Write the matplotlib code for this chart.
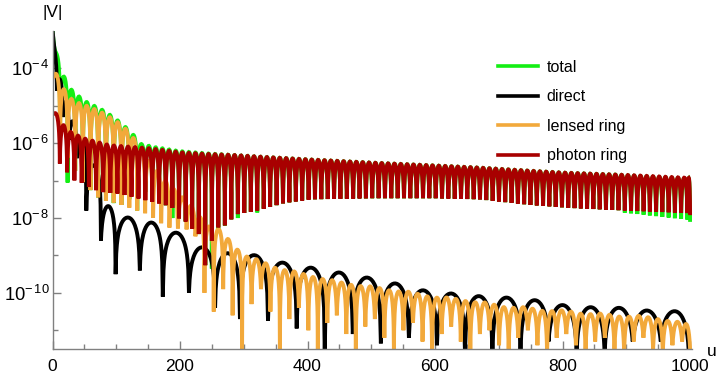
import numpy as np
import matplotlib
matplotlib.use('Agg')
import matplotlib.pyplot as plt

# every value below is log10|V|

# direct image: nulls (u), peak of each lobe, depth at each null
direct_nulls = [0, 7, 16, 26, 38, 53, 76, 99, 137, 173, 214, 255, 294, 338, 383,
                427, 471, 515, 559, 603, 647, 690, 734, 778, 822, 866, 910, 954, 998]
direct_peaks = [-3.9, -4.4, -5.0, -5.5, -5.9, -6.6, -7.7, -8.0, -8.13, -8.4, -8.8,
                -8.95, -9.0, -9.2, -9.33, -9.46, -9.6, -9.76, -9.95, -10.03, -10.1,
                -10.14, -10.22, -10.36, -10.41, -10.44, -10.54, -10.54]
direct_depths = [-2.95, -4.6, -5.3, -5.9, -6.4, -7.8, -8.6, -9.5, -9.4, -10.1, -10.0,
                 -10.4, -10.7, -10.75, -10.95, -11.6, -11.1, -11.35, -11.2, -11.4,
                 -11.6, -11.6, -11.6, -11.3, -11.6, -11.6, -11.3, -11.3, -11.6]

# lensed ring: peak envelope, spacing of nulls, depth of nulls
lensed_env_u = [0, 6, 22, 33, 53, 74, 94, 110, 126, 150, 175, 200, 225, 250, 265,
                280, 300, 340, 400, 450, 500, 550, 600, 650, 700, 750, 850, 950, 1000]
lensed_top = [-4.2, -4.2, -4.7, -4.88, -5.0, -5.15, -5.35, -5.53, -5.85, -6.45, -7.0,
              -7.45, -7.9, -8.3, -8.3, -8.7, -9.0, -9.3, -9.55, -9.75, -9.88, -10.0,
              -10.15, -10.25, -10.4, -10.5, -10.64, -10.77, -11.0]
lensed_period_u = [0, 150, 250, 1000]
lensed_period = [11.8, 12.5, 14.8, 15.2]
lensed_floor_u = [0, 12, 30, 50, 75, 100, 150, 180, 210, 225, 236]
lensed_floor = [-4.25, -6.0, -6.6, -7.1, -7.5, -7.6, -7.9, -8.25, -8.3, -8.5, -9.5]
lensed_late_depths = [-10.0, -10.5, -9.9, -10.6, -11.6, -10.3, -9.9, -10.5, -11.6, -10.7,
                      -10.4, -11.0, -11.6, -10.8, -10.6, -11.1, -11.6, -10.9, -10.7, -11.2,
                      -11.6, -11.0, -10.8, -11.3, -11.6, -11.1, -10.9, -11.3, -11.6, -11.1,
                      -11.0, -11.4, -11.6, -11.2, -11.0, -11.4, -11.6, -11.2, -11.1, -11.4,
                      -11.6, -11.3, -11.2, -11.5, -11.6, -11.3, -11.2, -11.5, -11.6, -11.4,
                      -11.3, -11.5, -11.6, -11.4, -11.3, -11.5]

# photon ring
photon_env_u = [0, 14, 30, 50, 90, 150, 200, 280, 400, 500, 670, 800, 900, 1000]
photon_top = [-5.2, -5.5, -5.75, -5.9, -6.08, -6.15, -6.25, -6.32, -6.47, -6.57,
              -6.72, -6.84, -6.9, -6.98]
photon_floor_u = [0, 9, 19, 30, 45, 60, 75, 105, 140, 165, 187, 200, 210, 220, 231,
                  239, 250, 260, 270, 289, 321, 342, 363, 405, 500, 600, 670, 750,
                  813, 900, 1000]
photon_floor = [-5.2, -6.5, -6.67, -6.97, -7.05, -7.2, -7.3, -7.35, -7.5, -7.6, -7.7,
                -8.05, -8.1, -8.3, -8.45, -9.3, -8.6, -8.25, -8.2, -7.9, -7.8, -7.7,
                -7.6, -7.5, -7.47, -7.47, -7.5, -7.65, -7.73, -7.8, -7.87]
photon_period_u = [0, 100, 200, 400, 1000]
photon_period = [11.5, 11.1, 10.3, 10.0, 9.8]

# total: visible where it pokes out above / below the other curves
total_env_u = [0, 5, 10, 22, 33, 55, 75, 95, 110, 125, 140, 160, 200, 280, 400, 500,
               670, 800, 900, 1000]
total_top = [-2.95, -3.6, -3.9, -4.4, -4.65, -4.92, -5.08, -5.3, -5.5, -5.75, -6.05,
             -6.12, -6.22, -6.32, -6.47, -6.57, -6.72, -6.84, -6.9, -6.98]
total_dip_u = [27, 95, 126, 145, 165, 192, 246, 260, 268, 286, 318]
total_dip = [-7.05, -7.6, -7.5, -7.3, -7.6, -8.0, -9.35, -8.3, -8.2, -8.0, -7.85]
total_tail_u = [895, 1000]
total_tail = [-7.85, -8.05]

labels = ['total', 'direct', 'lensed ring', 'photon ring']
colors = ['#14EE14', '#000000', '#F2A93B', '#A80000']
ytick_exp = [-4, -6, -8, -10]


def null_positions(start, end, period_u, period):
    pos = [start]
    while pos[-1] < end:
        pos.append(pos[-1] + np.interp(pos[-1], period_u, period))
    pos[-1] = end
    return np.array(pos)


# one |sin|-like arch per lobe, sitting on the null depths
def lobes(nulls, peaks, depths, n=40):
    us, vs = [], []
    t = np.linspace(0, 1, n)
    for k in range(len(peaks)):
        a, b = nulls[k], nulls[k + 1]
        floor = 10 ** (depths[k] + (depths[k + 1] - depths[k]) * t)
        us.append(a + (b - a) * t)
        vs.append(10 ** peaks[k] * np.sin(np.pi * t) + floor)
    return np.concatenate(us), np.concatenate(vs)


def mids(nulls):
    nulls = np.asarray(nulls, float)
    return 0.5 * (nulls[1:] + nulls[:-1])


# direct
u_dir, v_dir = lobes(direct_nulls, direct_peaks, direct_depths)

# lensed ring
l_nulls = null_positions(0, 1000, lensed_period_u, lensed_period)
l_peaks = np.interp(mids(l_nulls), lensed_env_u, lensed_top)
l_depths = np.interp(l_nulls, lensed_floor_u, lensed_floor)
late = np.where(l_nulls > 238)[0]
l_depths[late] = lensed_late_depths[:len(late)]
u_len, v_len = lobes(l_nulls, l_peaks, l_depths)

# photon ring
p_nulls = null_positions(0, 1000, photon_period_u, photon_period)
p_peaks = np.interp(mids(p_nulls), photon_env_u, photon_top)
p_depths = np.interp(p_nulls, photon_floor_u, photon_floor)
u_pho, v_pho = lobes(p_nulls, p_peaks, p_depths)

# total follows the lensed ring early, the photon ring later
t_nulls = np.concatenate([l_nulls[l_nulls < 145], p_nulls[p_nulls >= 145]])
t_depths = np.concatenate([l_depths[l_nulls < 145], p_depths[p_nulls >= 145]])
t_depths[0] = total_top[0]
for du, dv in zip(total_dip_u, total_dip):
    t_depths[np.argmin(np.abs(t_nulls - du))] = dv
tail = t_nulls >= total_tail_u[0]
t_depths[tail] = np.interp(t_nulls[tail], total_tail_u, total_tail)
t_peaks = np.interp(mids(t_nulls), total_env_u, total_top)
u_tot, v_tot = lobes(t_nulls, t_peaks, t_depths)

plt.rcParams['font.family'] = ['Liberation Sans', 'DejaVu Sans']
plt.rcParams['mathtext.fontset'] = 'custom'
plt.rcParams['mathtext.rm'] = 'Liberation Sans'
plt.rcParams['mathtext.it'] = 'Liberation Sans:italic'

fig = plt.figure(figsize=(7.19, 3.76), dpi=100)
ax = fig.add_axes([52.5 / 719, 27 / 376, 639.5 / 719, 318 / 376])

lw = 2.8
series = [(u_tot, v_tot), (u_dir, v_dir), (u_len, v_len), (u_pho, v_pho)]
for (u, v), c, lab in zip(series, colors, labels):
    ax.plot(u, v, color=c, lw=lw, label=lab, solid_joinstyle='miter')

ax.set_yscale('log')
ax.set_xlim(0, 1003)
ax.set_ylim(10 ** -11.5, 10 ** -3.0)

for s in ['top', 'right']:
    ax.spines[s].set_visible(False)
for s in ['left', 'bottom']:
    ax.spines[s].set_color('#808080')
    ax.spines[s].set_linewidth(1.0)

ax.set_xticks([0, 200, 400, 600, 800, 1000])
ax.set_xticks(np.arange(50, 1000, 50), minor=True)
ax.set_yticks([10.0 ** e for e in ytick_exp])
ax.set_yticklabels(['$10^{-\\,%d}$' % -e for e in ytick_exp])
ax.set_yticks([1e-5, 1e-7, 1e-9, 1e-11], minor=True)
ax.yaxis.set_minor_formatter(plt.NullFormatter())
ax.tick_params(which='both', direction='in', color='#808080')
ax.tick_params(which='major', length=6, width=1)
ax.tick_params(which='minor', length=3.5, width=1)
ax.tick_params(axis='x', pad=7.5, labelsize=12.5)
ax.tick_params(axis='y', pad=2, labelsize=13.2)

ax.set_xlabel('u', fontsize=12.5, ha='center', va='top')
ax.xaxis.set_label_coords(1.031, 0.015)
ax.set_ylabel('|V|', fontsize=12.5, rotation=0, ha='center', va='center')
ax.yaxis.set_label_coords(0.0, 1.058)

leg = ax.legend(loc='upper left', bbox_to_anchor=(498 / 719, 1 - 60 / 376),
                bbox_transform=fig.transFigure, frameon=False, fontsize=11.5,
                handlelength=2.5, handletextpad=0.55, labelspacing=0.9,
                borderpad=0, borderaxespad=0)
for h in leg.get_lines():
    h.set_linewidth(2.6)

fig.savefig('out.png', dpi=100)
